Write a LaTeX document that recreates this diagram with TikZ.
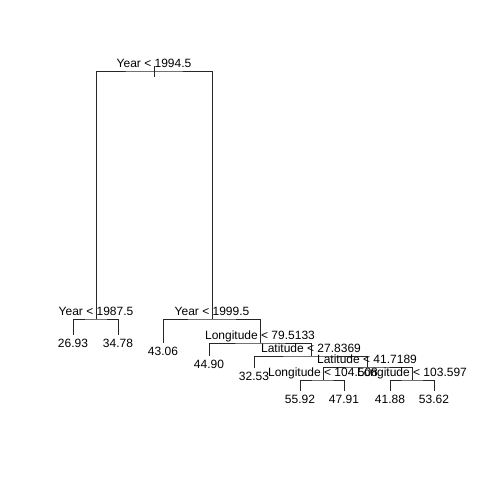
\documentclass[tikz,border=0pt]{standalone}
\usepackage{fontspec}
\setmainfont{Liberation Sans}
\usetikzlibrary{positioning}
\tikzset{
  tr edge/.style={draw=black!85, line width=0.8pt},
  tr text/.style={font=\fontsize{12}{14}\selectfont, inner sep=0pt},
  tr split/.style={tr text, anchor=base, yshift=3.5pt},
  tr leaf/.style={tr text, anchor=north, yshift=-3.5pt},
}
\begin{document}
\begin{tikzpicture}[x=1pt, y=-1pt]
  \useasboundingbox (0,0) rectangle (480,480);
  % split points
  \coordinate (s1) at (154,71);
  \coordinate (s2) at (96,319);
  \coordinate (s3) at (212,319);
  \coordinate (s4) at (260,343);
  \coordinate (s5) at (311,356);
  \coordinate (s6) at (367,367);
  \coordinate (s7) at (323,380);
  \coordinate (s8) at (412,380);
  \coordinate (s0a) at (154,66);
  \coordinate (s0b) at (154,77);
  % leaf ends
  \coordinate (l1) at (73,335);
  \coordinate (l2) at (118,335);
  \coordinate (l3) at (163,343);
  \coordinate (l4) at (209,356);
  \coordinate (l5) at (254,368);
  \coordinate (l6) at (300,391);
  \coordinate (l7) at (344,391);
  \coordinate (l8) at (390,391);
  \coordinate (l9) at (434,391);
  % branches
  \draw[tr edge] (s0a) -- (s0b);
  \foreach \a/\b/\c in {s2/s1/s3, l1/s2/l2, l3/s3/s4, l4/s4/s5, l5/s5/s6, s7/s6/s8, l6/s7/l7, l8/s8/l9}
    \draw[tr edge] (\a) |- (\b) -| (\c);
  % split labels
  \node[tr split] (t1) at (s1) {Year < 1994.5};
  \node[tr split] (t2) at (s2) {Year < 1987.5};
  \node[tr split] (t3) at (s3) {Year < 1999.5};
  \node[tr split] (t4) at (s4) {Longitude < 79.5133};
  \node[tr split] (t5) at (s5) {Latitude < 27.8369};
  \node[tr split] (t6) at (s6) {Latitude < 41.7189};
  \node[tr split] (t7) at (s7) {Longitude < 104.508};
  \node[tr split] (t8) at (s8) {Longitude < 103.597};
  % leaf values
  \foreach \l/\v in {l1/26.93, l2/34.78, l3/43.06, l4/44.90, l5/32.53, l6/55.92, l7/47.91, l8/41.88, l9/53.62}
    \node[tr leaf] (v\l) at (\l) {\v};
\end{tikzpicture}
\end{document}
